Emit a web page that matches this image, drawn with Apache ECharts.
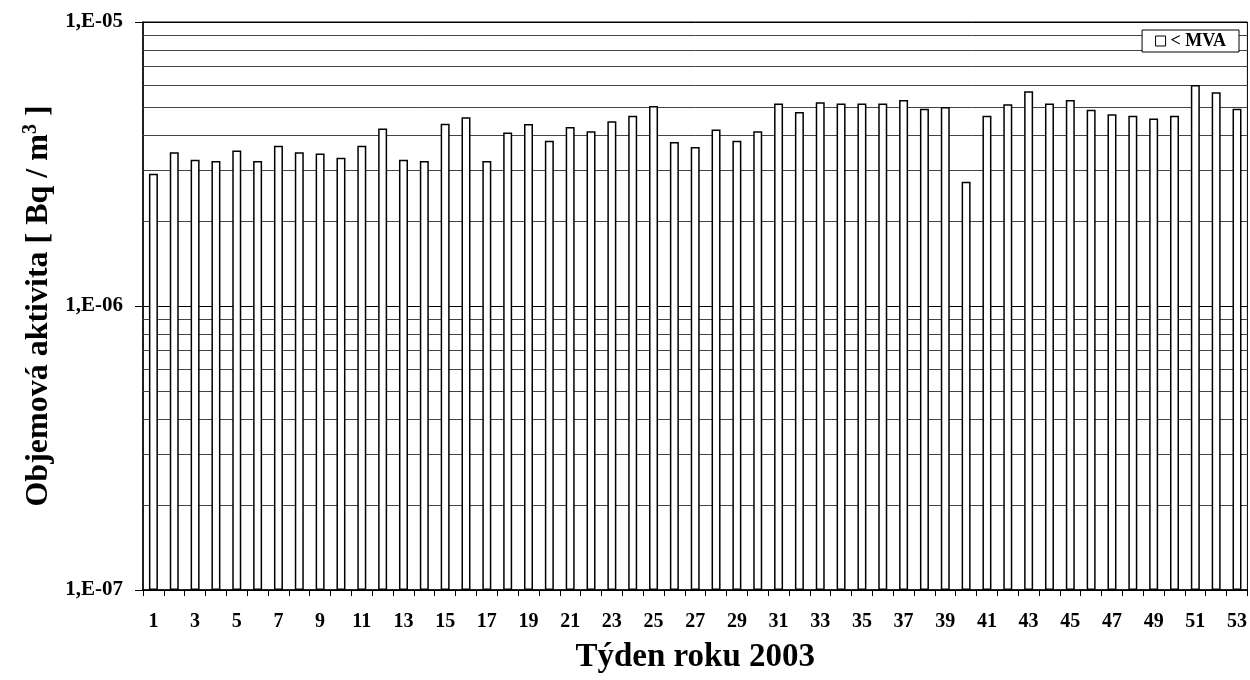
<!DOCTYPE html>
<html><head><meta charset="utf-8">
<script src="https://cdn.jsdelivr.net/npm/echarts@6/dist/echarts.min.js"></script>
<style>html,body{margin:0;padding:0;background:#fff}#c{width:1250px;height:680px}</style>
</head><body><div id="c"></div>
<script>
const weeks = Array.from({length:53},(_,i)=>String(i+1));
const mvaValues = [
2.92e-6,3.48e-6,3.27e-6,3.24e-6,3.53e-6,3.24e-6,3.67e-6,3.48e-6,3.44e-6,3.33e-6,
3.67e-6,4.22e-6,3.27e-6,3.24e-6,4.38e-6,4.62e-6,3.24e-6,4.08e-6,4.37e-6,3.82e-6,
4.27e-6,4.12e-6,4.47e-6,4.68e-6,5.06e-6,3.78e-6,3.63e-6,4.18e-6,3.82e-6,4.12e-6,
5.16e-6,4.82e-6,5.22e-6,5.16e-6,5.16e-6,5.16e-6,5.31e-6,4.95e-6,5.02e-6,2.74e-6,
4.68e-6,5.13e-6,5.70e-6,5.16e-6,5.31e-6,4.91e-6,4.73e-6,4.68e-6,4.57e-6,4.68e-6,
6.00e-6,5.66e-6,4.95e-6];
const yTickLabels = ['1,E-07','1,E-06','1,E-05'];
const minorGridValues = [
2e-7,3e-7,4e-7,5e-7,6e-7,7e-7,8e-7,9e-7,
2e-6,3e-6,4e-6,5e-6,6e-6,7e-6,8e-6,9e-6];
const seriesName = '< MVA';
const xTitle = 'Týden roku 2003';

// log axis bars grow from value 1, so plot in units of the axis minimum (1e-7)
const unit = 1e-7;
const font = 'Liberation Serif';
const chart = echarts.init(document.getElementById('c'));
chart.setOption({
  animation:false,
  backgroundColor:'#fff',
  grid:{left:143,right:2,top:22,bottom:90,show:true,borderColor:'#000',borderWidth:1,backgroundColor:'transparent'},
  legend:{
    data:[seriesName], right:11, top:30, orient:'horizontal',
    backgroundColor:'#fff', borderColor:'#000', borderWidth:1, padding:[2,13,2,13],
    icon:'rect', itemWidth:10, itemHeight:10, itemGap:10,
    itemStyle:{color:'#fff',borderColor:'#000',borderWidth:1},
    textStyle:{fontFamily:font,fontWeight:'bold',fontSize:18,color:'#000'}
  },
  xAxis:{
    type:'category', data:weeks, boundaryGap:true,
    name:xTitle, nameLocation:'middle', nameGap:51,
    nameTextStyle:{fontFamily:font,fontWeight:'bold',fontSize:33,color:'#000'},
    axisLine:{lineStyle:{color:'#000',width:1.5}},
    axisTick:{show:true,interval:0,length:6,lineStyle:{color:'#000'}},
    axisLabel:{interval:1,margin:22,fontFamily:font,fontWeight:'bold',fontSize:20,color:'#000'},
    splitLine:{show:false}
  },
  yAxis:{
    type:'log', logBase:10, min:1e-7/unit, max:1e-5/unit,
    name:'Objemová aktivita [ Bq / m{sup|3} ]', nameLocation:'middle', nameGap:85, nameRotate:90,
    nameTextStyle:{fontFamily:font,fontWeight:'bold',fontSize:32,color:'#000',
      rich:{sup:{fontFamily:font,fontWeight:'bold',fontSize:20,color:'#000',verticalAlign:'top',padding:[0,0,16,0]}}},
    axisLine:{show:true,lineStyle:{color:'#000',width:1.5}},
    axisTick:{show:true,length:8,lineStyle:{color:'#000'}},
    axisLabel:{margin:20,fontFamily:font,fontWeight:'bold',fontSize:21,color:'#000',
      formatter:function(v){const e=Math.round(Math.log10(v*unit));return yTickLabels[e+7]||'';}},
    splitLine:{show:true,lineStyle:{color:'#000',width:1}}
  },
  series:[{
    name:'grid', type:'custom', z:1, silent:true, clip:true,
    data:minorGridValues.map(v=>[0, v/unit]),
    encode:{x:0,y:1},
    renderItem:function(params, api){
      const cs = params.coordSys;
      const y = Math.round(api.coord([0, api.value(1)])[1]) + 0.5;
      return {type:'line', shape:{x1:cs.x, y1:y, x2:cs.x+cs.width, y2:y},
        style:{stroke:'#444', lineWidth:1}};
    }
  },{
    name:seriesName, type:'bar', data:mvaValues.map(v=>v/unit), barWidth:9, z:2,
    itemStyle:{color:'#fff',borderColor:'#000',borderWidth:1.5}
  }]
});
</script></body></html>
